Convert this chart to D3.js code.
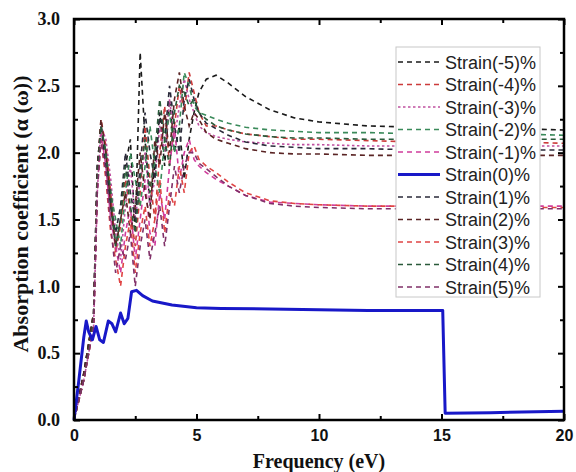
<!DOCTYPE html>
<html><head><meta charset="utf-8">
<script src="https://cdn.jsdelivr.net/npm/d3@7"></script>
<style>body{margin:0;background:#fff}</style>
</head><body>
<script>
// ---- data ----
const seriesNames = ["Strain(-5)%","Strain(-4)%","Strain(-3)%","Strain(-2)%","Strain(-1)%","Strain(0)%","Strain(1)%","Strain(2)%","Strain(3)%","Strain(4)%","Strain(5)%"];
const freq = [0,0.4,0.8,0.95,1.1,1.3,1.5,1.7,1.9,2.1,2.3,2.5,2.7,2.9,3.1,3.3,3.5,3.7,3.9,4.1,4.3,4.5,4.7,4.9,5.1,5.4,5.8,6.3,7,8,9,10,12,14,16,18,20];
const sM5 = [0,0.35,0.8,1.9,2.2,2.0,1.6,1.3,1.5,1.9,2.1,1.4,2.75,2.1,1.6,1.9,2.3,1.9,2.4,2.0,2.2,1.8,2.1,2.3,2.45,2.55,2.58,2.52,2.42,2.32,2.26,2.23,2.2,2.19,2.18,2.18,2.17];
const sM4 = [0,0.3,0.75,1.8,2.25,2.05,1.7,1.25,1.45,1.8,1.55,1.3,1.7,2.2,1.8,1.5,2.0,2.35,1.9,2.2,2.5,2.3,2.6,2.45,2.3,2.2,2.2,2.17,2.14,2.12,2.1,2.1,2.09,2.08,2.08,2.08,2.07];
const sM3 = [0,0.3,0.7,1.7,2.2,2.1,1.8,1.4,1.2,1.6,1.9,1.5,1.8,2.0,1.6,1.8,2.2,2.0,2.4,2.1,2.35,2.55,2.4,2.3,2.2,2.15,2.12,2.1,2.08,2.07,2.06,2.06,2.05,2.05,2.05,2.05,2.05];
const sM2 = [0,0.3,0.7,1.8,2.2,2.0,1.7,1.5,1.3,1.7,2.0,1.8,1.6,1.9,2.2,1.9,1.7,2.1,2.3,2.0,2.2,2.6,2.5,2.35,2.3,2.28,2.25,2.22,2.19,2.17,2.16,2.15,2.15,2.14,2.14,2.14,2.13];
const sM1 = [0,0.3,0.7,1.7,2.15,1.9,1.5,1.3,1.1,1.4,1.6,1.2,1.5,1.8,1.4,1.3,1.7,1.5,1.9,2.2,1.8,2.0,2.1,1.95,1.9,1.85,1.8,1.75,1.68,1.63,1.62,1.61,1.6,1.6,1.6,1.6,1.6];
const sP1 = [0,0.35,0.8,1.9,2.2,1.9,1.6,1.4,1.6,2.0,1.7,1.5,1.9,2.3,2.0,1.8,2.3,2.1,2.5,2.2,2.0,2.4,2.55,2.4,2.3,2.22,2.18,2.13,2.08,2.05,2.04,2.03,2.03,2.02,2.02,2.02,2.02];
const sP2 = [0,0.35,0.8,1.85,2.25,2.0,1.6,1.3,1.5,1.7,1.4,1.6,2.0,1.7,1.5,2.1,1.9,2.3,2.0,2.4,2.6,2.35,2.2,2.3,2.25,2.15,2.1,2.07,2.03,2.0,1.99,1.99,1.98,1.98,1.98,1.98,1.98];
const sP3 = [0,0.3,0.7,1.75,2.1,1.8,1.4,1.2,1.0,1.3,1.5,1.1,1.4,1.6,1.3,1.5,1.8,1.4,1.7,1.6,1.9,1.7,2.0,2.05,1.95,1.9,1.85,1.78,1.7,1.64,1.62,1.61,1.6,1.6,1.59,1.59,1.59];
const sP4 = [0,0.3,0.75,1.8,2.2,2.0,1.7,1.3,1.5,1.9,1.6,1.4,1.8,2.1,1.7,2.0,2.4,2.1,1.9,2.3,2.5,2.45,2.35,2.4,2.3,2.25,2.2,2.17,2.14,2.12,2.11,2.11,2.1,2.1,2.1,2.1,2.1];
const sP5 = [0,0.3,0.7,1.7,2.1,1.85,1.45,1.1,1.3,1.2,1.4,1.0,1.3,1.5,1.2,1.4,1.6,1.3,1.6,1.9,1.7,1.9,2.0,2.0,1.92,1.88,1.82,1.75,1.68,1.62,1.6,1.59,1.58,1.58,1.58,1.58,1.58];
const freq0 = [0,0.2,0.4,0.5,0.6,0.75,0.9,1.05,1.2,1.4,1.55,1.7,1.9,2.05,2.2,2.35,2.55,2.8,3.2,4,5,6,8,10,12,14,15.05,15.15,17,20];
const s0 = [0,0.3,0.62,0.74,0.66,0.6,0.7,0.6,0.58,0.74,0.72,0.66,0.8,0.72,0.76,0.96,0.97,0.93,0.89,0.86,0.84,0.835,0.83,0.825,0.82,0.82,0.82,0.05,0.055,0.065];
const xTicks = [0,5,10,15,20];
const yTicks = [0.0,0.5,1.0,1.5,2.0,2.5,3.0];

const seriesValues = [sM5,sM4,sM3,sM2,sM1,s0,sP1,sP2,sP3,sP4,sP5];
const colors = ["#1a1a1a","#cc3b3b","#c050a0","#3a8a5a","#d03c9c","#1818c8","#2a2a3a","#5a2424","#e04444","#2a5a3a","#803068"];
const dashes = ["5,4","5,4","2.5,2.5","5,4","5,4",null,"5,4","5,4","5,4","5,4","5,4"];

const W=576,H=472;
const svg=d3.select("body").append("svg").attr("width",W).attr("height",H);
const x=d3.scaleLinear().domain([0,20]).range([74,564]);
const y=d3.scaleLinear().domain([0,3]).range([420,19]);
const line=d3.line().x(d=>x(d[0])).y(d=>y(d[1]));

const plotG = svg.append("g");
seriesValues.forEach((vals,i)=>{
  if(i===5) return;
  const pts = freq.map((f,j)=>[f,vals[j]]);
  plotG.append("path").attr("d",line(pts)).attr("fill","none")
    .attr("stroke",colors[i]).attr("stroke-width",1.6).attr("stroke-dasharray",dashes[i]);
});
plotG.append("path").attr("d",line(freq0.map((f,j)=>[f,s0[j]]))).attr("fill","none")
  .attr("stroke",colors[5]).attr("stroke-width",3).attr("stroke-linejoin","round");

// axes with inward ticks
const axG=svg.append("g");
const bottom=d3.axisBottom(x).tickValues(xTicks).tickSize(-6).tickFormat(d3.format("d")).tickPadding(10);
const gb=axG.append("g").attr("transform","translate(0,420)").call(bottom);
gb.selectAll("text").attr("font-family","Liberation Sans, Arial, sans-serif").attr("font-weight","bold").attr("font-size","16px").attr("fill","#111");
const left=d3.axisLeft(y).tickValues(yTicks).tickSize(-6).tickFormat(d3.format(".1f")).tickPadding(14);
const gl=axG.append("g").attr("transform","translate(74,0)").call(left);
gl.selectAll("text").attr("font-family","Liberation Serif, Times New Roman, serif").attr("font-weight","bold").attr("font-size","18px").attr("fill","#111");
axG.append("g").attr("transform","translate(0,19)").call(d3.axisTop(x).tickValues(xTicks).tickSize(-6).tickFormat(""));
axG.append("g").attr("transform","translate(564,0)").call(d3.axisRight(y).tickValues(yTicks).tickSize(-6).tickFormat(""));
// minor ticks
const xMinor=[2.5,7.5,12.5,17.5];
const yMinor=[0.25,0.75,1.25,1.75,2.25,2.75];
axG.append("g").attr("transform","translate(0,420)").call(d3.axisBottom(x).tickValues(xMinor).tickSize(-4).tickFormat(""));
axG.append("g").attr("transform","translate(0,19)").call(d3.axisTop(x).tickValues(xMinor).tickSize(-4).tickFormat(""));
axG.append("g").attr("transform","translate(74,0)").call(d3.axisLeft(y).tickValues(yMinor).tickSize(-4).tickFormat(""));
axG.append("g").attr("transform","translate(564,0)").call(d3.axisRight(y).tickValues(yMinor).tickSize(-4).tickFormat(""));
axG.selectAll(".domain").remove();
axG.selectAll(".tick line").attr("stroke","#000").attr("stroke-width",2);
svg.append("rect").attr("x",74).attr("y",19).attr("width",490).attr("height",401)
  .attr("fill","none").attr("stroke","#000").attr("stroke-width",2.5);

// axis titles
svg.append("text").attr("x",319).attr("y",468).attr("text-anchor","middle")
  .attr("font-family","Liberation Serif, Times New Roman, serif").attr("font-weight","bold").attr("font-size","20px").attr("fill","#111")
  .text("Frequency (eV)");
svg.append("text").attr("transform","translate(28,214) rotate(-90)").attr("text-anchor","middle")
  .attr("font-family","Liberation Serif, Times New Roman, serif").attr("font-weight","bold").attr("font-size","22px").attr("fill","#111")
  .text("Absorption coefficient (α (ω))");

// legend
const lg=svg.append("g");
lg.append("rect").attr("x",396).attr("y",47).attr("width",144).attr("height",250)
  .attr("fill","#fff").attr("stroke","#c8c8c8").attr("stroke-width",1);
seriesNames.forEach((n,i)=>{
  const yy=62+i*22.5;
  lg.append("line").attr("x1",398).attr("x2",440).attr("y1",yy).attr("y2",yy)
    .attr("stroke",colors[i]).attr("stroke-width",i===5?3:1.6).attr("stroke-dasharray",dashes[i]);
  lg.append("text").attr("x",445).attr("y",yy+6.5)
    .attr("font-family","Liberation Sans, Arial, sans-serif").attr("font-size","18px").attr("fill","#222").text(n);
});
</script>
</body></html>
